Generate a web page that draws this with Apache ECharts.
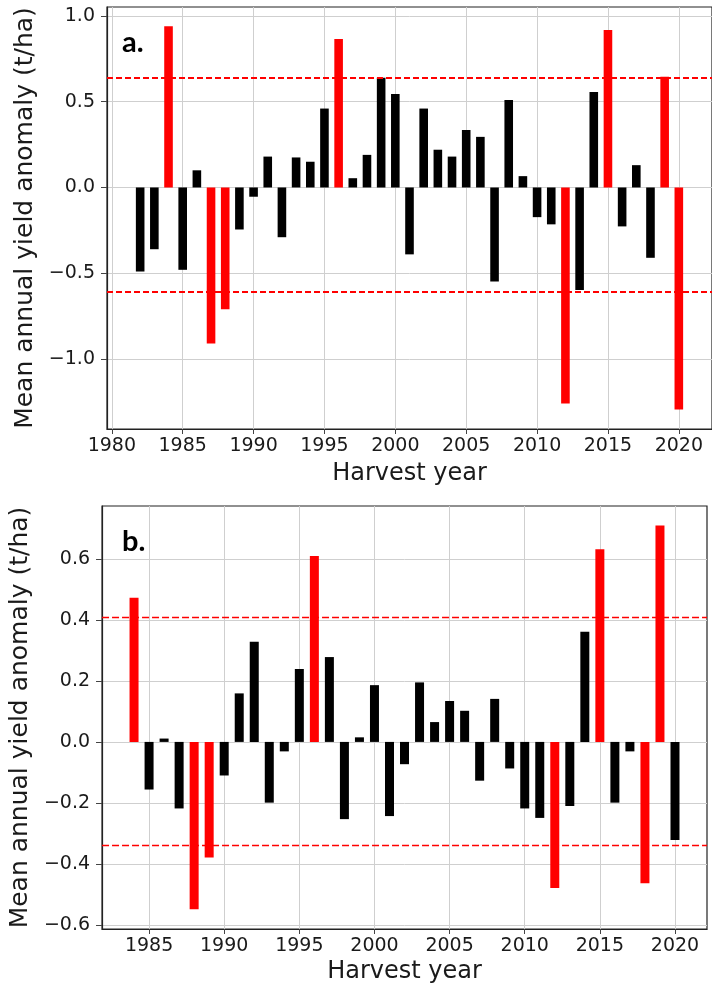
<!DOCTYPE html>
<html>
<head>
<meta charset="utf-8">
<script src="https://cdn.jsdelivr.net/npm/echarts@6/dist/echarts.min.js"></script>
<style>
html,body{margin:0;padding:0;background:#fff;}
#c{width:712px;height:991px;}
</style>
</head>
<body>
<div id="c"></div>
<script>
// ---------- DATA ----------
const yearsA = [1982,1983,1984,1985,1986,1987,1988,1989,1990,1991,1992,1993,1994,1995,1996,1997,1998,1999,2000,2001,2002,2003,2004,2005,2006,2007,2008,2009,2010,2011,2012,2013,2014,2015,2016,2017,2018,2019,2020];
const valuesA = [-0.49,-0.36,0.94,-0.48,0.10,-0.91,-0.71,-0.245,-0.054,0.18,-0.29,0.175,0.15,0.46,0.865,0.054,0.19,0.64,0.545,-0.39,0.46,0.22,0.18,0.335,0.295,-0.548,0.51,0.066,-0.173,-0.215,-1.26,-0.598,0.557,0.918,-0.227,0.13,-0.41,0.645,-1.295];
const extremeA = [1984,1987,1988,1996,2012,2015,2019,2020];
const thresholdsA = [0.643,-0.612];

const yearsB = [1984,1985,1986,1987,1988,1989,1990,1991,1992,1993,1994,1995,1996,1997,1998,1999,2000,2001,2002,2003,2004,2005,2006,2007,2008,2009,2010,2011,2012,2013,2014,2015,2016,2017,2018,2019,2020];
const valuesB = [0.472,-0.156,0.011,-0.218,-0.548,-0.379,-0.110,0.159,0.328,-0.199,-0.031,0.239,0.609,0.278,-0.253,0.015,0.186,-0.243,-0.073,0.195,0.065,0.134,0.102,-0.127,0.141,-0.087,-0.218,-0.249,-0.479,-0.210,0.361,0.631,-0.199,-0.031,-0.463,0.709,-0.321];
const extremeB = [1984,1988,1989,1996,2012,2015,2018,2019];
const thresholdsB = [0.405,-0.345];

const xTicksA = [1980,1985,1990,1995,2000,2005,2010,2015,2020];
const yTicksA = [-1.0,-0.5,0.0,0.5,1.0];
const xTicksB = [1985,1990,1995,2000,2005,2010,2015,2020];
const yTicksB = [-0.6,-0.4,-0.2,0.0,0.2,0.4,0.6];

const panelLabels = ['a.','b.'];
const xTitle = 'Harvest year';
const yTitle = 'Mean annual yield anomaly (t/ha)';

// ---------- CHART ----------
const FONT = 'DejaVu Sans';
const TXT = '#1a1a1a';
const chart = echarts.init(document.getElementById('c'), null, {renderer:'canvas'});

function fmtY(v){ return (v < 0 ? '\u2212' : '') + Math.abs(v).toFixed(1); }

function xAxis(gi, min, max, ticks, gap){
  return {
    type:'value', gridIndex:gi, min:min, max:max,
    name:xTitle, nameLocation:'middle', nameGap:gap,
    nameTextStyle:{fontFamily:FONT, fontSize:24, color:TXT},
    axisLine:{show:true, onZero:false, lineStyle:{color:'#222', width:1.2}},
    axisTick:{show:true, length:5, customValues:ticks, lineStyle:{color:'#444'}},
    axisLabel:{customValues:ticks, margin:8, fontFamily:FONT, fontSize:19, color:TXT, formatter:v=>String(v)},
    splitLine:{show:true, lineStyle:{color:'#cfcfcf', width:1}}
  };
}
function yAxis(gi, min, max, ticks, gap){
  return {
    type:'value', gridIndex:gi, min:min, max:max,
    name:yTitle, nameLocation:'middle', nameGap:gap, nameRotate:90,
    nameTextStyle:{fontFamily:FONT, fontSize:25, color:TXT},
    axisLine:{show:true, lineStyle:{color:'#222', width:1.2}},
    axisTick:{show:true, length:6, customValues:ticks, lineStyle:{color:'#444'}},
    axisLabel:{customValues:ticks, margin:12, fontFamily:FONT, fontSize:19, color:TXT, formatter:fmtY},
    splitLine:{show:true, lineStyle:{color:'#cfcfcf', width:1}}
  };
}
function barSeries(gi, years, vals, extremes, thr, bw, lw, dash){
  return {
    type:'bar', xAxisIndex:gi, yAxisIndex:gi, barWidth:bw, silent:true,
    data: years.map((y,i)=>({value:[y, vals[i]], itemStyle:{color: extremes.indexOf(y) >= 0 ? '#ff0000' : '#000000'}})),
    markLine:{
      silent:true, symbol:['none','none'], label:{show:false},
      lineStyle:{color:'#ff0000', type:dash, width:lw, opacity:1},
      emphasis:{disabled:true},
      data: thr.map(t=>({yAxis:t, lineStyle:{color:'#ff0000', type:dash, width:lw}}))
    }
  };
}

const option = {
  backgroundColor:'#ffffff',
  animation:false,
  grid:[
    {left:107, top:7, width:610, height:422, show:true, borderColor:'#222', borderWidth:1.2, backgroundColor:'transparent'},
    {left:101, top:506, width:606, height:423, show:true, borderColor:'#222', borderWidth:1.2, backgroundColor:'transparent'}
  ],
  xAxis:[ xAxis(0, 1979.66, 2022.34, xTicksA, 33), xAxis(1, 1981.87, 2022.13, xTicksB, 31) ],
  yAxis:[ yAxis(0, -1.408, 1.052, yTicksA, 68), yAxis(1, -0.613, 0.773, yTicksB, 66) ],
  series:[
    barSeries(0, yearsA, valuesA, extremeA, thresholdsA, 8.6, 1.8, [6,3]),
    barSeries(1, yearsB, valuesB, extremeB, thresholdsB, 9, 1.3, [7,3])
  ],
  graphic:[
    {type:'text', left:122, top:28, style:{text:panelLabels[0], font:'bold 29px Lato', fill:'#000'}},
    {type:'text', left:122, top:527, style:{text:panelLabels[1], font:'bold 29px Lato', fill:'#000'}}
  ]
};
chart.setOption(option);
</script>
</body>
</html>
